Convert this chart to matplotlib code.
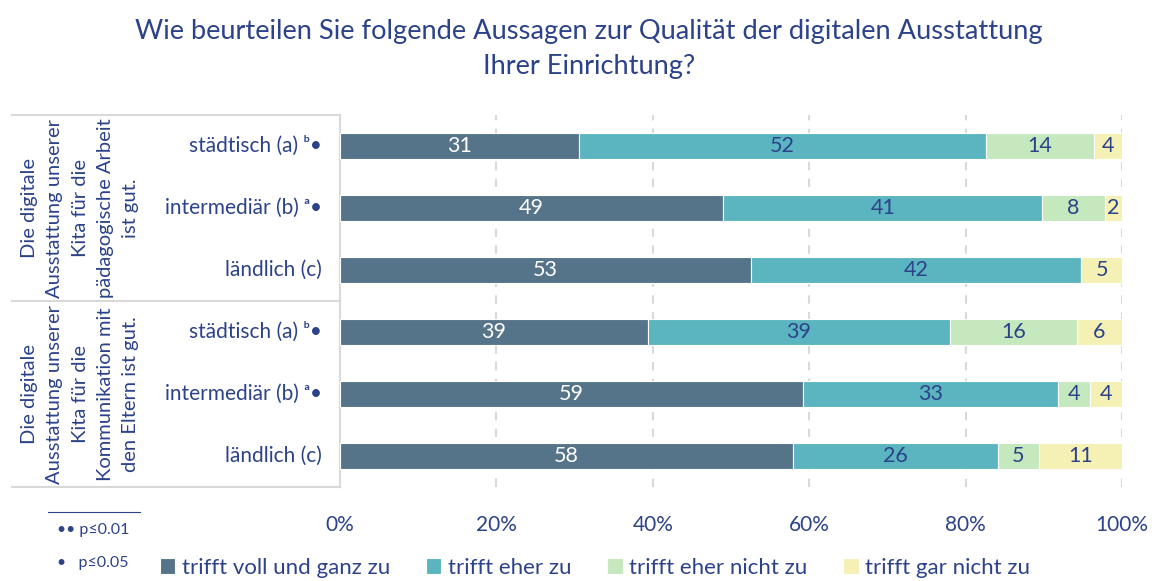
import matplotlib.pyplot as plt
import numpy as np

plt.rcParams['font.family'] = ['Lato', 'DejaVu Sans']

# categories (top to bottom)
rows = ['städtisch (a) ᵇ•', 'intermediär (b) ᵃ•', 'ländlich (c)',
        'städtisch (a) ᵇ•', 'intermediär (b) ᵃ•', 'ländlich (c)']
groups = ['Die digitale\nAusstattung unserer\nKita für die\npädagogische Arbeit\nist gut.',
          'Die digitale\nAusstattung unserer\nKita für die\nKommunikation mit\nden Eltern ist gut.']

# shares in percent
voll = [30.6, 49.0, 52.6, 39.4, 59.2, 57.9]
eher = [52.0, 40.8, 42.2, 38.6, 32.6, 26.2]
eher_nicht = [13.8, 8.0, 0.0, 16.2, 4.1, 5.3]
gar_nicht = [3.6, 2.2, 5.2, 5.8, 4.1, 10.6]

series = [voll, eher, eher_nicht, gar_nicht]
names = ['trifft voll und ganz zu', 'trifft eher zu', 'trifft eher nicht zu', 'trifft gar nicht zu']
colors = ['#567489', '#5BB5C0', '#C5E8BE', '#F5F0B3']
navy = '#2C4289'

fig = plt.figure(figsize=(11.52, 5.81), dpi=100)
ax = fig.add_axes([340 / 1152, 1 - 487 / 581, 782 / 1152, 372 / 581])

y = np.arange(len(rows))
left = np.zeros(len(rows))
for i, (vals, name, col) in enumerate(zip(series, names, colors)):
    vals = np.array(vals)
    ax.barh(y, vals, left=left, height=0.42, color=col, edgecolor='white',
            linewidth=0.8, label=name, zorder=3)
    for yy, l, v in zip(y, left, vals):
        if v > 0:
            ax.text(l + v / 2, yy, str(int(round(v))), ha='center', va='center',
                    fontsize=15.5, color='white' if i == 0 else navy, zorder=4)
    left += vals

ax.set_xlim(0, 100)
ax.set_ylim(5.5, -0.5)
ax.set_xticks([0, 20, 40, 60, 80, 100])
ax.set_xticklabels(['0%', '20%', '40%', '60%', '80%', '100%'], fontsize=15, color=navy)
ax.tick_params(axis='x', length=0, pad=20)
ax.set_yticks([])
for s in ['top', 'right', 'bottom']:
    ax.spines[s].set_visible(False)
ax.spines['left'].set_color('#D9D9D9')
ax.spines['left'].set_linewidth(1.5)
ax.grid(axis='x', color='#D9D9D9', linestyle=(0, (4, 4)), linewidth=1.5, zorder=0)

# row labels
for yy, lab in zip(y, rows):
    ax.text(-2.3, yy, lab, ha='right', va='center', fontsize=15, color=navy)

# table lines on the left
for yl in [115, 301, 487]:
    fig.add_artist(plt.Line2D([12 / 1152, 340 / 1152], [1 - yl / 581] * 2,
                              color='#D9D9D9', linewidth=1.5))

# group labels
for yc, g in zip([208, 394], groups):
    fig.text(80 / 1152, 1 - yc / 581, g, rotation=90, ha='center', va='center',
             multialignment='center', fontsize=14.5, color=navy, linespacing=1.58)

fig.text(589 / 1152, 1 - 49 / 581,
         'Wie beurteilen Sie folgende Aussagen zur Qualität der digitalen Ausstattung\nIhrer Einrichtung?',
         ha='center', va='center', fontsize=19.6, color=navy, linespacing=1.5)

# footnote
fig.add_artist(plt.Line2D([48 / 1152, 140 / 1152], [1 - 512 / 581] * 2, color=navy, linewidth=0.8))
fig.text(57 / 1152, 1 - 530 / 581, '•• p≤0.01', ha='left', va='center', fontsize=11.5, color=navy)
fig.text(57 / 1152, 1 - 563 / 581, '•   p≤0.05', ha='left', va='center', fontsize=11.5, color=navy)

fig.legend(loc='center', bbox_to_anchor=(595 / 1152, 1 - 568 / 581), ncol=4, frameon=False,
           fontsize=16, labelcolor=navy, handlelength=0.7, handleheight=0.7,
           handletextpad=0.3, columnspacing=1.6)

fig.savefig('out.png', dpi=100)
